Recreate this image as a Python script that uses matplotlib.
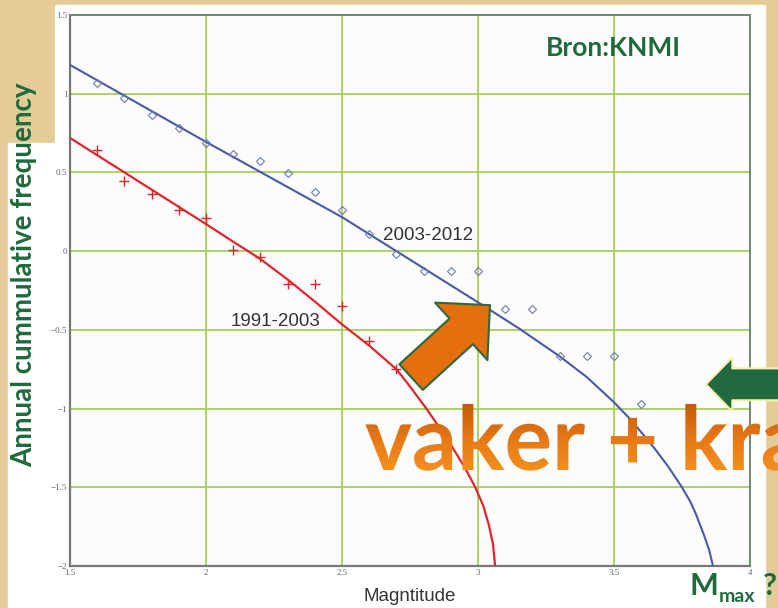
import numpy as np
import matplotlib.pyplot as plt
import matplotlib.transforms as mtransforms
from matplotlib.patches import Rectangle, FancyArrowPatch, PathPatch
from matplotlib.textpath import TextPath
from matplotlib.font_manager import FontProperties
from matplotlib.colors import LinearSegmentedColormap

# slide size in pixels
W, H = 778, 608

# observed data, 2003-2012 (diamonds)
mag_recent = [1.6, 1.7, 1.8, 1.9, 2.0, 2.1, 2.2, 2.3, 2.4, 2.5, 2.6, 2.7,
              2.8, 2.9, 3.0, 3.1, 3.2, 3.3, 3.4, 3.5, 3.6]
freq_recent = [1.07, 0.973, 0.865, 0.78, 0.687, 0.617, 0.573, 0.496, 0.375,
               0.26, 0.108, -0.02, -0.127, -0.127, -0.127, -0.37, -0.37,
               -0.668, -0.668, -0.668, -0.973]

# observed data, 1991-2003 (crosses)
mag_old = [1.6, 1.7, 1.8, 1.9, 2.0, 2.1, 2.2, 2.3, 2.4, 2.5, 2.6, 2.7]
freq_old = [0.642, 0.445, 0.363, 0.26, 0.21, 0.006, -0.038, -0.21, -0.21,
            -0.35, -0.573, -0.75]

# fitted curves
fit_recent_m = [1.5, 2.0, 2.5, 2.7, 3.0, 3.15, 3.3, 3.4, 3.5, 3.55, 3.6, 3.65,
                3.7, 3.75, 3.78, 3.8, 3.83, 3.85, 3.864]
fit_recent_y = [1.183, 0.694, 0.216, 0.0, -0.325, -0.49, -0.668, -0.80, -0.96,
                -1.05, -1.15, -1.255, -1.37, -1.50, -1.59, -1.665, -1.80,
                -1.90, -2.0]
fit_old_m = [1.5, 2.0, 2.1, 2.2, 2.3, 2.4, 2.5, 2.6, 2.7, 2.75, 2.81, 2.85,
             2.9, 2.95, 2.99, 3.02, 3.04, 3.055, 3.063]
fit_old_y = [0.719, 0.172, 0.06, -0.05, -0.18, -0.32, -0.465, -0.60, -0.75,
             -0.86, -1.0, -1.1, -1.23, -1.37, -1.5, -1.62, -1.74, -1.86, -2.0]

xticks = [1.5, 2, 2.5, 3, 3.5, 4]
xtick_labels = ["1.5", "2", "2.5", "3", "3.5", "4"]
yticks = [1.5, 1, 0.5, 0, -0.5, -1, -1.5, -2]
ytick_labels = ["1.5", "1", "0.5", "0", "\u22120.5", "\u22121", "\u22121.5", "\u22122"]

GREEN = "#1f6a3c"
BEIGE = "#e4cb98"


def fx(px):
    return px / W


def fy(py):
    return 1 - py / H


fig = plt.figure(figsize=(W / 100, H / 100), dpi=100, facecolor=BEIGE)

# white slide panels
fig.add_artist(Rectangle((fx(55), fy(608)), fx(765) - fx(55), fy(5) - fy(608),
                         transform=fig.transFigure, color="white", zorder=0))
fig.add_artist(Rectangle((fx(8), fy(608)), fx(55) - fx(8), fy(143) - fy(608),
                         transform=fig.transFigure, color="white", zorder=0))

ax = fig.add_axes([fx(70), fy(566), fx(750) - fx(70), fy(15) - fy(566)])
ax.set_facecolor("#fcfcfc")

ax.plot(fit_recent_m, fit_recent_y, color="#4a58a6", lw=1.5, zorder=3)
ax.plot(fit_old_m, fit_old_y, color="#e0262c", lw=1.6, zorder=3)
ax.plot(mag_recent, freq_recent, linestyle="none", marker="D", markersize=4.5,
        markerfacecolor="none", markeredgecolor="#6d79b0", markeredgewidth=0.8, zorder=4)
ax.plot(mag_old, freq_old, linestyle="none", marker="+", markersize=7,
        color="#d8262c", markeredgewidth=1.0, zorder=4)

ax.set_xlim(1.5, 4)
ax.set_ylim(-2, 1.5)
ax.set_xticks(xticks)
ax.set_xticklabels(xtick_labels, family="Liberation Serif", fontsize=6.5, color="#666666")
ax.set_yticks(yticks)
ax.set_yticklabels(ytick_labels, family="Liberation Serif", fontsize=6.5, color="#666666")
ax.tick_params(length=0, pad=2)
ax.grid(True, color="#a6cf5c", lw=1.3)
ax.set_axisbelow(True)
for side in ["left", "bottom"]:
    ax.spines[side].set_color("#777777")
    ax.spines[side].set_linewidth(1.6)
for side in ["top", "right"]:
    ax.spines[side].set_color("#6e8a70")
    ax.spines[side].set_linewidth(1.4)

ax.set_xlabel("Magntitude", family="Liberation Sans", fontsize=13.5, color="#333333",
              labelpad=8)

ax.text(2.816, 0.10, "2003-2012", family="Liberation Sans", fontsize=13.5,
        color="#333333", ha="center", va="center")
ax.text(2.254, -0.445, "1991-2003", family="Liberation Sans", fontsize=13.5,
        color="#333333", ha="center", va="center")

fig.text(fx(24), fy(275), "Annual cummulative frequency", rotation=90,
         family="Lato", weight="bold", fontsize=20, color=GREEN,
         ha="center", va="center")
fig.text(fx(613), fy(48), "Bron:KNMI", family="Lato", weight="bold",
         fontsize=19, color=GREEN, ha="center", va="center")

# orange arrow pointing at the 2003-2012 curve
ax.add_patch(FancyArrowPatch((2.754, -0.80), (3.044, -0.343),
                             arrowstyle="simple,head_length=28,head_width=56,tail_width=25",
                             mutation_scale=1, shrinkA=0, shrinkB=0,
                             facecolor="#e46f0c", edgecolor="#2a6a3e", lw=1.5,
                             zorder=6, clip_on=False))

# green arrow from the right edge
ax.add_patch(FancyArrowPatch((4.2, -0.846), (3.838, -0.846),
                             arrowstyle="simple,head_length=19,head_width=39,tail_width=23",
                             mutation_scale=1, shrinkA=0, shrinkB=0,
                             facecolor="#236940", edgecolor="#f6f1b4", lw=1.5,
                             zorder=6, clip_on=False))

# overlay in slide pixels for the big orange gradient text
ov = fig.add_axes([0, 0, 1, 1])
ov.set_xlim(0, W)
ov.set_ylim(0, H)
ov.axis("off")
slogan = "vaker + krachtiger"
tp = TextPath((0, 0), slogan, prop=FontProperties(family="Lato", weight="bold", size=64))
to_px = mtransforms.Affine2D().scale(100 / 72).translate(365, H - 470)
clip = PathPatch(tp, transform=to_px + ov.transData, facecolor="none", edgecolor="none")
ov.add_patch(clip)
orange = LinearSegmentedColormap.from_list("orange", ["#c05808", "#e87a16", "#f99a22"])
grad = np.linspace(0, 1, 64).reshape(-1, 1)
img = ov.imshow(grad, cmap=orange, aspect="auto", origin="upper",
                extent=(360, 1200, H - 485, H - 398), zorder=7)
img.set_clip_path(clip)
ov.set_xlim(0, W)
ov.set_ylim(0, H)

fig.text(fx(704), fy(586), "M", family="Lato", weight="bold", fontsize=22,
         color=GREEN, ha="center", va="center")
fig.text(fx(737), fy(597), "max", family="Lato", weight="bold", fontsize=14,
         color=GREEN, ha="center", va="center")
fig.text(fx(770), fy(586), "?", family="Lato", weight="bold", fontsize=22,
         color=GREEN, ha="center", va="center")

fig.savefig("out.png", dpi=100, facecolor=BEIGE)
